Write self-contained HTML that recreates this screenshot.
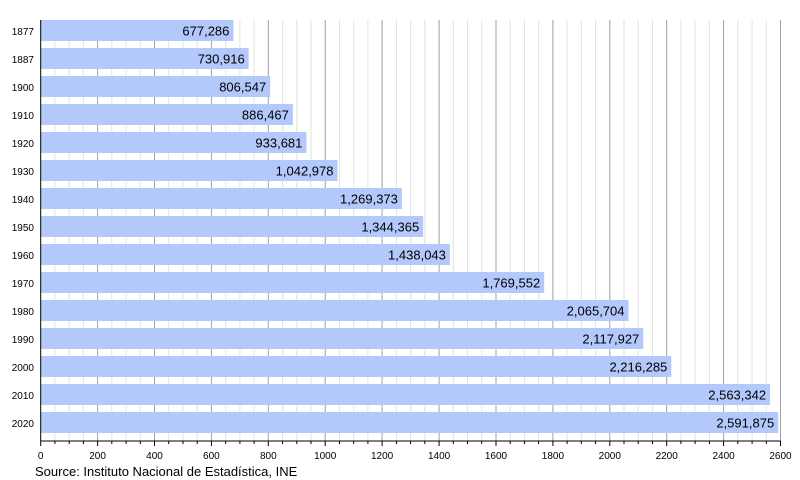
<!DOCTYPE html>
<html><head><meta charset="utf-8"><style>body{margin:0;background:#fff}svg{display:block}</style></head>
<body>
<svg id="s" width="800" height="480" xmlns="http://www.w3.org/2000/svg" font-family="Liberation Sans, sans-serif"></svg>
<script>
var s=document.getElementById('s'),h='';
var x0=40.7,k=0.28454;
for(var v=50;v<=2600;v+=50){var x=(x0+v*k).toFixed(1);
 h+='<line x1="'+x+'" y1="20" x2="'+x+'" y2="441" stroke="'+(v%200==0?'#a0a0a0':'#e2e2e2')+'" stroke-width="1"/>';}
var d=[["1877",677286],["1887",730916],["1900",806547],["1910",886467],["1920",933681],["1930",1042978],["1940",1269373],["1950",1344365],["1960",1438043],["1970",1769552],["1980",2065704],["1990",2117927],["2000",2216285],["2010",2563342],["2020",2591875]];
d.forEach(function(r,i){var y=20+28*i,w=r[1]/1000*k,xe=x0+w;
 h+='<rect x="'+x0+'" y="'+y+'" width="'+w.toFixed(1)+'" height="21" fill="#b3c8fb"/>';
 h+='<text x="'+(xe-4).toFixed(1)+'" y="'+(y+15.5)+'" font-size="13" text-anchor="end" fill="#000">'+r[1].toLocaleString('en-US')+'</text>';
 h+='<text x="34" y="'+(y+15)+'" font-size="10" text-anchor="end" fill="#000">'+r[0]+'</text>';});
h+='<line x1="'+x0+'" y1="20" x2="'+x0+'" y2="441" stroke="#000"/>';
h+='<line x1="'+x0+'" y1="441" x2="780.5" y2="441" stroke="#000"/>';
for(var v=0;v<=2600;v+=50){var x=(x0+v*k).toFixed(1),m=v%200==0;
 h+='<line x1="'+x+'" y1="441" x2="'+x+'" y2="'+(m?446:444)+'" stroke="#000"/>';
 if(m)h+='<text x="'+x+'" y="459" font-size="10" text-anchor="middle">'+v+'</text>';}
h+='<text x="35" y="476" font-size="13">Source: Instituto Nacional de Estadística, INE</text>';
s.innerHTML=h;
</script>
</body></html>
